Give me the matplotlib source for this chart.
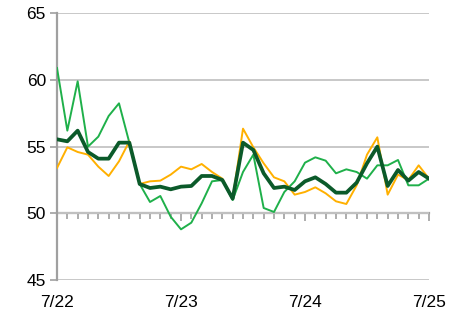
import matplotlib
matplotlib.use("Agg")
import matplotlib.pyplot as plt
import numpy as np

# 2-hourly readings, 7/22 00:00 through 7/25 00:00
day_labels = ['7/22', '7/23', '7/24', '7/25']

bright = [60.9, 56.2, 59.9, 55.0, 55.75, 57.3, 58.25, 55.3, 52.2, 50.85,
          51.3, 49.75, 48.8, 49.3, 50.75, 52.4, 52.5, 51.0, 53.1, 54.4,
          50.4, 50.1, 51.6, 52.4, 53.8, 54.2, 53.95, 53.0, 53.3, 53.1,
          52.6, 53.6, 53.6, 54.0, 52.1, 52.1, 52.6]
orange = [53.4, 54.95, 54.6, 54.4, 53.5, 52.8, 53.9, 55.4, 52.2, 52.4,
          52.45, 52.9, 53.5, 53.3, 53.7, 53.1, 52.6, 51.1, 56.35, 54.95,
          53.75, 52.7, 52.4, 51.4, 51.6, 51.95, 51.5, 50.9, 50.7, 52.1,
          54.4, 55.7, 51.4, 52.9, 52.5, 53.6, 52.6]
dark = [55.55, 55.4, 56.2, 54.6, 54.1, 54.1, 55.3, 55.3, 52.2, 51.9,
        52.0, 51.8, 52.0, 52.05, 52.8, 52.8, 52.5, 51.1, 55.3, 54.75,
        53.0, 51.9, 52.0, 51.75, 52.4, 52.7, 52.2, 51.55, 51.55, 52.3,
        53.75, 55.0, 52.05, 53.25, 52.45, 53.1, 52.6]

x = np.arange(len(dark))
axis_grey = '#a0a0a0'
grid_grey = '#c4c4c4'

plt.rcParams['font.family'] = ['Liberation Sans', 'DejaVu Sans']

fig = plt.figure(figsize=(4.64, 3.13), dpi=100)
ax = fig.add_axes([57 / 464, 1 - 280 / 313, (429 - 57) / 464, (280 - 13.3) / 313])

ax.plot(x, bright, color='#1fb04a', lw=1.4, zorder=3)
ax.plot(x, orange, color='#ffb000', lw=1.4, zorder=3)
ax.plot(x, dark, color='#0b5a2a', lw=2.7, zorder=4)

ax.set_xlim(0, 36)
ax.set_ylim(45, 65)
ax.set_yticks([45, 50, 55, 60, 65])
ax.set_xticks([0, 12, 24, 36])
ax.set_xticklabels(day_labels)
ax.tick_params(axis='x', length=0, pad=11, labelsize=12.5, colors='black')
ax.tick_params(axis='y', length=5, width=1.2, color=axis_grey, labelsize=12.5, pad=3)
ax.grid(axis='y', color=grid_grey, lw=1.3, zorder=0)
ax.set_axisbelow(True)

for side in ['top', 'right', 'bottom']:
    ax.spines[side].set_visible(False)
ax.spines['left'].set_color(axis_grey)
ax.spines['left'].set_linewidth(1.6)

# category axis crossing at 50
sec = ax.secondary_xaxis(0.25)
sec.set_xticks([0, 12, 24, 36])
sec.set_xticks(x, minor=True)
sec.set_xticklabels([])
sec.tick_params(which='major', length=6, width=1.2, color=axis_grey)
sec.tick_params(which='minor', length=4, width=1.2, color=axis_grey)
sec.spines['bottom'].set_color(axis_grey)
sec.spines['bottom'].set_linewidth(1.6)

fig.savefig('out.png', dpi=100)
